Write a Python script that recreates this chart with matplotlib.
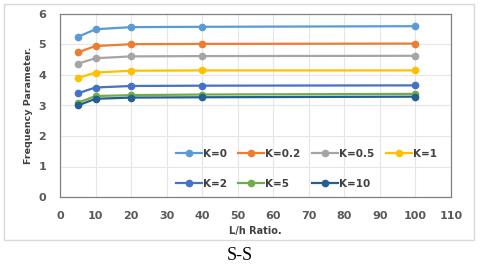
import matplotlib
matplotlib.use("Agg")
import matplotlib.pyplot as plt
from matplotlib.patches import Rectangle

x_vals = [5, 10, 20, 40, 100]
labels = ["K=0", "K=0.2", "K=0.5", "K=1", "K=2", "K=5", "K=10"]
k0 = [5.25, 5.50, 5.57, 5.58, 5.60]
k02 = [4.74, 4.95, 5.01, 5.02, 5.03]
k05 = [4.37, 4.55, 4.61, 4.62, 4.63]
k1 = [3.90, 4.08, 4.14, 4.15, 4.15]
k2 = [3.40, 3.59, 3.64, 3.65, 3.66]
k5 = [3.09, 3.31, 3.34, 3.36, 3.38]
k10 = [3.00, 3.22, 3.26, 3.27, 3.29]
series = [k0, k02, k05, k1, k2, k5, k10]
colors = ["#5B9BD5", "#ED7D31", "#A5A5A5", "#FFC000", "#4472C4", "#70AD47", "#255E91"]

plt.rcParams["font.family"] = ["DejaVu Sans"]

fig = plt.figure(figsize=(4.8, 2.66), dpi=100)
fig.patches.append(Rectangle((4/480, 1-240/266), 470/480, 236/266, transform=fig.transFigure,
                             fill=False, edgecolor="#D9D9D9", linewidth=1))
ax = fig.add_axes([60/480, 1-197/266, 391/480, 183/266])

handles = []
for ys, c, lab in zip(series, colors, labels):
    h, = ax.plot(x_vals, ys, color=c, lw=1.6, marker="o", markersize=4.5, label=lab)
    handles.append(h)

ax.set_xlim(0, 110)
ax.set_ylim(0, 6)
ax.set_xticks(range(0, 111, 10))
ax.set_yticks(range(0, 7, 1))
ax.grid(True, color="#E6E6E6", lw=0.8)
ax.set_axisbelow(True)
for s in ax.spines.values():
    s.set_color("#808080")
    s.set_linewidth(0.9)
ax.tick_params(axis="x", length=0, labelsize=8, labelcolor="#595959", pad=10)
ax.tick_params(axis="y", length=0, labelsize=8, labelcolor="#595959", pad=10)
for t in ax.get_xticklabels() + ax.get_yticklabels():
    t.set_fontweight("bold")

ax.set_xlabel("L/h Ratio.", fontsize=7, fontweight="bold", color="#404040", labelpad=4)
ax.set_ylabel("Frequency Parameter.", fontsize=6.8, fontweight="bold", color="#404040", labelpad=4)

# row-major legend order for 4 columns
order = [0, 4, 1, 5, 2, 6, 3]
leg = ax.legend(handles=[handles[i] for i in order], ncol=4, loc="upper left",
                bbox_to_anchor=(0.285, 0.285),
                frameon=False, fontsize=7.5, handlelength=2.5, handletextpad=0.1,
                columnspacing=1.1, labelspacing=1.9, borderaxespad=0)
for t in leg.get_texts():
    t.set_fontweight("bold")
    t.set_color("#404040")

fig.text(240/480, 1-255/266, "S-S", ha="center", va="center", fontsize=13,
         family="Liberation Serif", color="#000000")

fig.savefig("out.png", dpi=100)
